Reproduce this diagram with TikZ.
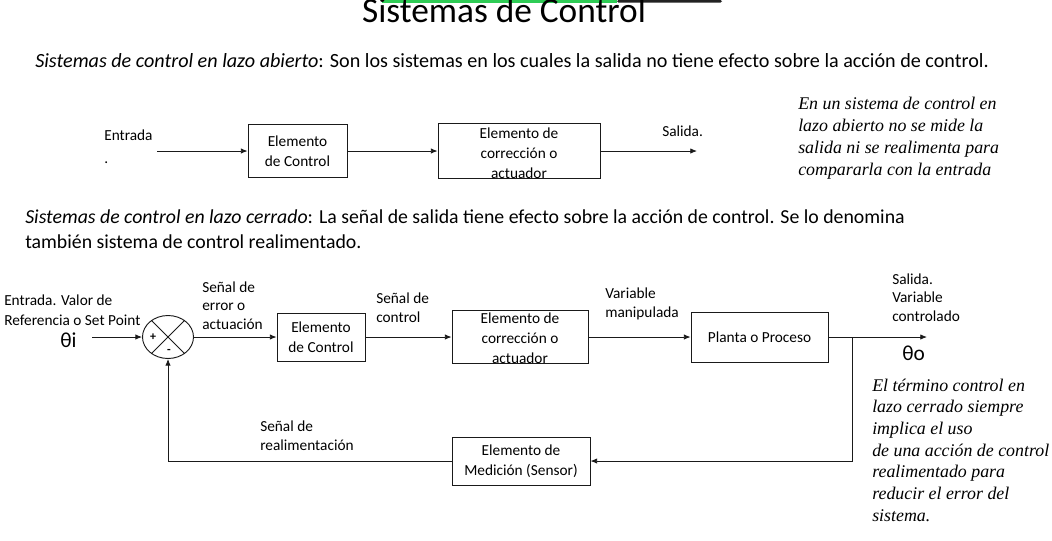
\documentclass[tikz,border=0pt]{standalone}
\usepackage{fontspec}
\setmainfont{Carlito}
\newfontfamily\notefont{Liberation Serif}
\usepackage{tikz}
\usetikzlibrary{positioning, shapes.geometric, arrows.meta}
\definecolor{ctLine}{HTML}{1A1A1A}
\definecolor{ctGreen}{HTML}{2ECC55}
\definecolor{ctBar}{HTML}{222222}
\tikzset{
  block/.style={
    rectangle, draw=ctLine, line width=0.7pt,
    inner sep=0pt, align=center,
    font=\fontsize{11.5}{15}\selectfont
  },
  tallblock/.style={
    block, text height=#1, text depth=-2pt
  },
  tag/.style={
    inner sep=0pt, align=left, anchor=base west,
    font=\fontsize{11.5}{13.9}\selectfont
  },
  note/.style={
    inner sep=0pt, align=left, anchor=base west,
    font=\fontsize{13.4}{16.4}\selectfont\notefont\itshape
  },
  sig/.style={
    -{Latex[length=5pt, width=4pt]},
    ctLine, line width=0.6pt
  },
  wire/.style={ctLine, line width=0.6pt}
}

\begin{document}
\begin{tikzpicture}[x=0.75pt, y=-0.75pt]
  \clip (0,0) rectangle (1052,540);
  \fill[white] (0,0) rectangle (1052,540);
  % title
  \fill[ctGreen] (382,0) rectangle (617,2.5);
  \fill[ctBar, rounded corners=1pt] (617,0) rectangle (722,2.5);
  \node[inner sep=0pt, anchor=base, font=\fontsize{26.5}{30}\selectfont] (title) at (504,22) {Sistemas de Control};

  % lazo abierto
  \node[inner sep=0pt, anchor=base west, font=\fontsize{15.1}{18}\selectfont] (defOpen) at (35,67)
    {\textit{Sistemas de control en lazo abierto}: Son los sistemas en los cuales la salida no tiene efecto sobre la acción de control.};
  \node[tag, font=\fontsize{11.5}{17}\selectfont] (ent) at (104,163) {Entrada\\.};
  \coordinate (entA) at (157,151);
  \node[block, minimum width=74.25pt, minimum height=39.75pt] (oCtrl) at (297.5,151) {Elemento\\de Control};
  \node[tallblock=41.75pt, minimum width=121.5pt] (oAct) at (519,151) {Elemento de\\corrección o\\actuador};
  \coordinate (salA) at (697,151);
  \node[tag] (oSal) at (662,136) {Salida.};
  \draw[sig] (entA) -- (oCtrl.west);
  \draw[sig] (oCtrl.east) -- (oAct.west);
  \draw[sig] (oAct.east) -- (salA);
  \node[note, font=\fontsize{13.4}{16.5}\selectfont\notefont\itshape] (noteOpen) at (798,175)
    {En un sistema de control en\\lazo abierto no se mide la\\salida ni se realimenta para\\compararla con la entrada};

  % lazo cerrado
  \node[inner sep=0pt, anchor=base west, align=left, font=\fontsize{14.85}{18.75}\selectfont] (defClosed) at (25,248)
    {\textit{Sistemas de control en lazo cerrado}: La señal de salida tiene efecto sobre la acción de control. Se lo denomina\\también sistema de control realimentado.};
  \node[tag, font=\fontsize{11.5}{15}\selectfont] (ref) at (4,325) {Entrada. Valor de\\Referencia o Set Point};
  \node[inner sep=0pt, anchor=base west, font=\fontsize{16}{18}\selectfont] (thi) at (60,347) {θi};
  \coordinate (thA) at (92,337);
  \node[ellipse, draw=ctLine, line width=0.7pt, inner sep=0pt, minimum width=38.25pt, minimum height=32.25pt] (sum) at (168,337) {};
  \draw[wire] (sum.45) -- (sum.225) (sum.135) -- (sum.315);
  \node[inner sep=0pt, font=\fontsize{9}{9}\selectfont\bfseries] (plus) at (153,337) {+};
  \node[inner sep=0pt, font=\fontsize{9}{9}\selectfont\bfseries] (minus) at (169,351) {-};
  \node[tag] (err) at (202,329.5) {Señal de\\error o\\actuación};
  \node[block, minimum width=66pt, minimum height=36pt] (cCtrl) at (321,337) {Elemento\\de Control};
  \node[tag] (sCtl) at (376,322.5) {Señal de\\control};
  \node[tallblock=39.5pt, minimum width=102pt] (cAct) at (520,337) {Elemento de\\corrección o\\actuador};
  \node[tag] (vMan) at (605,317) {Variable\\manipulada};
  \node[block, minimum width=102.75pt, minimum height=37.5pt] (plant) at (759.5,337) {Planta o Proceso};
  \coordinate (branch) at (852,337);
  \coordinate (outA) at (927,337);
  \node[tag] (sOut) at (892,321.5) {Salida.\\Variable\\controlado};
  \node[inner sep=0pt, anchor=base west, font=\fontsize{16}{18}\selectfont] (tho) at (902,360) {θo};
  \node[block, minimum width=103.5pt, minimum height=36pt] (sens) at (521,461) {Elemento de\\Medición (Sensor)};
  \node[tag] (sRea) at (260,450) {Señal de\\realimentación};
  \draw[sig] (thA) -- (sum.west);
  \draw[sig] (sum.east) -- (cCtrl.west);
  \draw[sig] (cCtrl.east) -- (cAct.west);
  \draw[sig] (cAct.east) -- (plant.west);
  \draw[sig] (plant.east) -- (outA);
  \draw[sig] (branch) |- (sens.east);
  \draw[sig] (sens.west) -| (sum.south);
  \node[note, font=\fontsize{13.4}{16.25}\selectfont\notefont\itshape] (noteClosed) at (872,521)
    {El término control en\\lazo cerrado siempre\\implica el uso\\de una acción de control\\realimentado para\\reducir el error del\\sistema.};
\end{tikzpicture}
\end{document}
